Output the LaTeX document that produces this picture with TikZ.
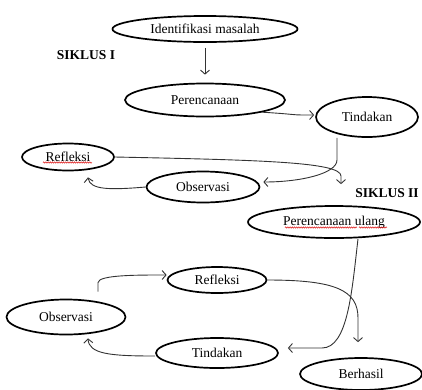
\documentclass[tikz,border=0pt]{standalone}
\usepackage{fontspec}
\setmainfont{Liberation Serif}
\usetikzlibrary{shapes.geometric,arrows.meta,decorations.pathmorphing}
\begin{document}
\begin{tikzpicture}[x=1pt,y=-1pt,
  oval/.style={ellipse,draw=black,line width=1.7pt,inner sep=0pt,font=\fontsize{13.5}{16}\selectfont},
  lbl/.style={font=\fontsize{13.5}{16}\selectfont\bfseries,inner sep=0pt},
  arr/.style={draw=black!80,line width=0.9pt,-{Straight Barb[length=4pt,width=9pt]}},
  spell/.style={draw=red!85!black,line width=0.45pt,decorate,decoration={snake,amplitude=0.7pt,segment length=2.2pt}}]
\useasboundingbox (0,0) rectangle (422,389);
\fill[white] (0,0) rectangle (422,389);
% nodes
\node[oval,minimum width=185pt,minimum height=26pt] (ident) at (205,29) {Identifikasi masalah};
\node[lbl] (s1) at (86,55) {SIKLUS I};
\node[oval,minimum width=160pt,minimum height=33pt] (peren) at (205,100) {Perencanaan};
\node[oval,minimum width=102pt,minimum height=40pt] (tind1) at (367,117) {Tindakan};
\node[oval,minimum width=92pt,minimum height=27pt] (ref1) at (68,157) {Refleksi};
\node[oval,minimum width=113pt,minimum height=31pt] (obs1) at (203,187) {Observasi};
\node[lbl] (s2) at (387,193) {SIKLUS II};
\node[oval,minimum width=172pt,minimum height=32pt] (peren2) at (334,222) {Perencanaan ulang};
\node[oval,minimum width=99pt,minimum height=26pt] (ref2) at (217,280) {Refleksi};
\node[oval,minimum width=119pt,minimum height=35pt] (obs2) at (66,317) {Observasi};
\node[oval,minimum width=122pt,minimum height=30pt] (tind2) at (217,353) {Tindakan};
\node[oval,minimum width=122pt,minimum height=32pt] (berh) at (361,374) {Berhasil};
% spell-check underlines
\draw[spell] ([xshift=-25pt,yshift=-5.5pt]ref1.center) -- ([xshift=24pt,yshift=-5.5pt]ref1.center);
\draw[spell] ([xshift=-49pt,yshift=-5.5pt]peren2.center) -- ([xshift=23pt,yshift=-5.5pt]peren2.center);
\draw[spell] ([xshift=25pt,yshift=-5.5pt]peren2.center) -- ([xshift=53pt,yshift=-5.5pt]peren2.center);
% connectors
\draw[arr,shorten <=5pt,shorten >=8pt] (ident) -- (peren);
\draw[arr] (peren.-12) .. controls (292,114) and (294,115) .. (302,115) -- ([xshift=-1pt,yshift=2pt]tind1.west);
\draw[arr] ([xshift=-30pt]tind1.south) -- ++(0,22) .. controls +(0,14) and (300,182) .. ([xshift=3pt,yshift=5pt]obs1.east);
\draw[arr] (obs1.west) .. controls (110,190) and (90,190) .. ([xshift=20pt,yshift=-6pt]ref1.south);
\draw[arr] (ref1.east) .. controls (260,160) and (341,162) .. (341,176) -- ([xshift=7pt,yshift=21pt]peren2.north);
\draw[arr] ([xshift=24pt]peren2.south) .. controls (352,290) and (348,348) .. (322,348) -- ([xshift=9pt,yshift=5pt]tind2.east);
\draw[arr] ([yshift=-3pt]tind2.west) .. controls (110,356) and (89,354) .. ([xshift=22pt,yshift=-3pt]obs2.south);
\draw[arr] ([xshift=32pt,yshift=7pt]obs2.north) -- ++(0,-9) .. controls +(0,-8) and (140,275) .. ([yshift=5pt]ref2.west);
\draw[arr] (ref2.east) .. controls (335,280) and (358,290) .. (358,318) -- ([xshift=-3pt,yshift=15pt]berh.north);
\end{tikzpicture}
\end{document}
